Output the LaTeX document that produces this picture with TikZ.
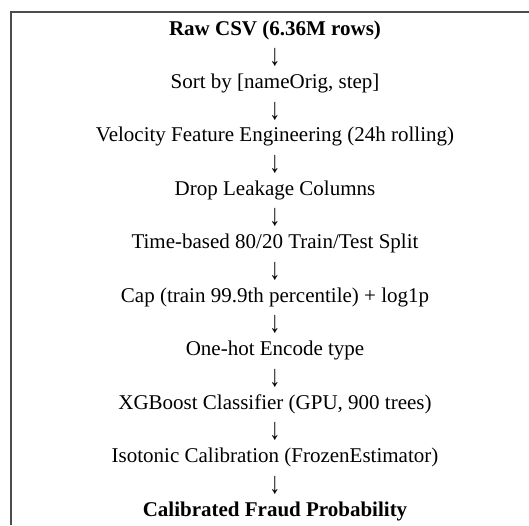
\documentclass[tikz,border=0pt]{standalone}
\usepackage{fontspec}
\setmainfont{Liberation Serif}
\begin{document}
\begin{tikzpicture}[x=1pt,y=-1pt,
  stepnode/.style={inner sep=0pt,anchor=center,font=\fontsize{21}{24}\selectfont},
  boldnode/.style={stepnode,font=\fontsize{21}{24}\selectfont\bfseries},
  arrownode/.style={stepnode},
  frameline/.style={draw=black!70,line width=1.3pt}]
\useasboundingbox (0,0) rectangle (529,525);
\draw[frameline] (529,12) -- (11,12) -- (11,525);
\def\cx{275}
\newcommand{\dnarrow}{\scalebox{1.05}[1.45]{↓}}
\node[boldnode] (n0) at (\cx,30) {Raw CSV (6.36M rows)};
\node[arrownode] (a1) at (\cx,57.5) {\dnarrow};
\node[stepnode] (n1) at (\cx,83.4) {Sort by [nameOrig, step]};
\node[arrownode] (a2) at (\cx,111) {\dnarrow};
\node[stepnode] (n2) at (\cx,136.9) {Velocity Feature Engineering (24h rolling)};
\node[arrownode] (a3) at (\cx,164.4) {\dnarrow};
\node[stepnode] (n3) at (\cx,190.3) {Drop Leakage Columns};
\node[arrownode] (a4) at (\cx,217.8) {\dnarrow};
\node[stepnode] (n4) at (\cx,243.8) {Time-based 80/20 Train/Test Split};
\node[arrownode] (a5) at (\cx,271.3) {\dnarrow};
\node[stepnode] (n5) at (\cx,297.2) {Cap (train 99.9th percentile) + log1p};
\node[arrownode] (a6) at (\cx,324.7) {\dnarrow};
\node[stepnode] (n6) at (\cx,350.6) {One-hot Encode type};
\node[arrownode] (a7) at (\cx,378.2) {\dnarrow};
\node[stepnode] (n7) at (\cx,404.1) {XGBoost Classifier (GPU, 900 trees)};
\node[arrownode] (a8) at (\cx,431.6) {\dnarrow};
\node[stepnode] (n8) at (\cx,457.5) {Isotonic Calibration (FrozenEstimator)};
\node[arrownode] (a9) at (\cx,485) {\dnarrow};
\node[boldnode] (n9) at (\cx,511) {Calibrated Fraud Probability};
\end{tikzpicture}
\end{document}
